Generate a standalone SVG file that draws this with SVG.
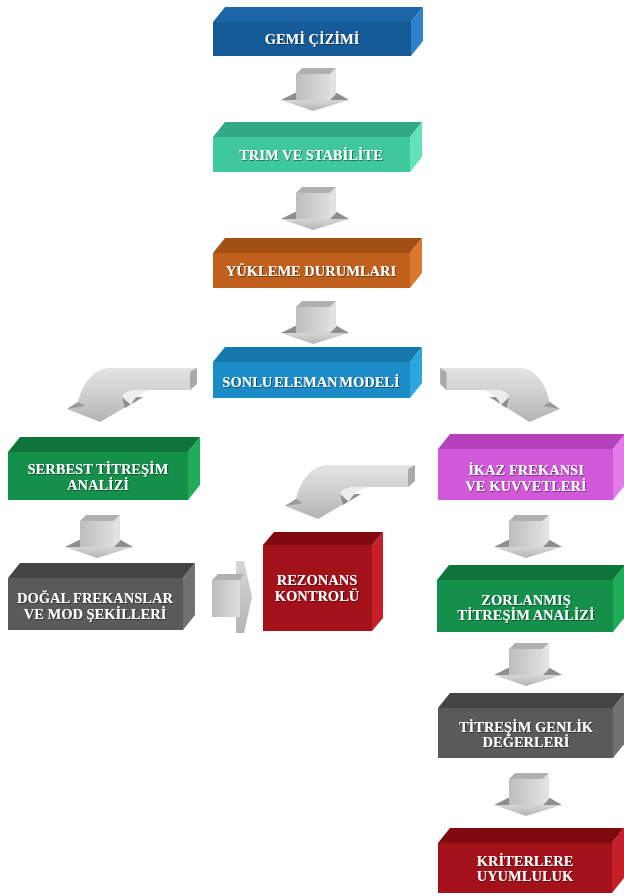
<svg xmlns="http://www.w3.org/2000/svg" xmlns:xlink="http://www.w3.org/1999/xlink" width="624" height="896" viewBox="0 0 624 896">
<style>
.t{font-family:"Liberation Serif","Times New Roman",serif;font-weight:bold;font-size:14.5px;fill:#ffffff;text-anchor:middle;filter:url(#sh)}
.blue .f{fill:#155b98}.blue .tp{fill:#1c66a8}.blue .s{fill:#2c82cc}
.teal .f{fill:#3fc89d}.teal .tp{fill:#33aa85}.teal .s{fill:#62e2ba}
.orng .f{fill:#c0601c}.orng .tp{fill:#a34e13}.orng .s{fill:#d9772e}
.cyan .f{fill:#1b8cc7}.cyan .tp{fill:#1778ab}.cyan .s{fill:#2ba6e0}
.grn .f{fill:#14904a}.grn .tp{fill:#0f743a}.grn .s{fill:#1fab5a}
.mag .f{fill:#d258da}.mag .tp{fill:#b541bd}.mag .s{fill:#e27ae8}
.gray .f{fill:#5a5a5a}.gray .tp{fill:#444444}.gray .s{fill:#717171}
.red .f{fill:#a3111a}.red .tp{fill:#7e0a10}.red .s{fill:#c41e28}
</style>
<defs>
<filter id="sh" x="-10%" y="-30%" width="120%" height="160%">
<feDropShadow dx="0.8" dy="0.8" stdDeviation="0.7" flood-color="#000" flood-opacity="0.55"/>
</filter>
<linearGradient id="gShaft" x1="0" y1="0" x2="1" y2="0">
<stop offset="0" stop-color="#bdbdbd"/><stop offset="1" stop-color="#dedede"/>
</linearGradient>
<linearGradient id="gHead" x1="0" y1="0" x2="0" y2="1">
<stop offset="0" stop-color="#d6d6d6"/><stop offset="1" stop-color="#b4b4b4"/>
</linearGradient>
<linearGradient id="gBand" x1="0" y1="0" x2="0" y2="1">
<stop offset="0" stop-color="#e4e4e4"/><stop offset="0.6" stop-color="#c9c9c9"/><stop offset="1" stop-color="#b2b2b2"/>
</linearGradient>
<g id="darrow">
<polygon points="-32,30 -18,23 24,23 36,30" fill="#8e8e8e"/>
<polygon points="-32,30 36,30 0,41" fill="url(#gHead)"/>
<rect x="-17" y="4" width="34" height="26" fill="url(#gShaft)"/>
<polygon points="-17,4 -11,-2 23,-2 17,4" fill="#b0b0b0"/>
<polygon points="17,4 23,-2 23,24 17,30" fill="#e2e2e2"/>
</g>
<g id="carrow">
<path d="M197,368 L108,368 C92,370 82,385 78,402 L67,409 L100,422 L143,397 L122,397 C124,392 130,390 138,390 L190,390 L197,384 Z" fill="url(#gBand)"/>
<polygon points="122,397 143,397 125,408" fill="#8e8e8e"/>
<polygon points="67,409 78,402 85,406" fill="#9a9a9a"/>
<path d="M122,397 C124,392 130,390 138,390 L150,390 C140,393 134,398 131,405 Z" fill="#ededed"/>
<polygon points="190,372 197,368 197,384 190,390" fill="#a9a9a9"/>
</g>
</defs>
<rect width="624" height="896" fill="#ffffff"/>
<g id="connectors">
<use xlink:href="#darrow" transform="translate(313,70)"/>
<use xlink:href="#darrow" transform="translate(313,189)"/>
<use xlink:href="#darrow" transform="translate(313,303)"/>
<use xlink:href="#darrow" transform="translate(97,517)"/>
<use xlink:href="#darrow" transform="translate(526,517)"/>
<use xlink:href="#darrow" transform="translate(526,645)"/>
<use xlink:href="#darrow" transform="translate(526,775)"/>
<use xlink:href="#carrow"/>
<use xlink:href="#carrow" transform="translate(218,97)"/>
<use xlink:href="#carrow" transform="translate(621.4,0) scale(-0.92,1)"/>
<g id="rarrow">
<polygon points="236,561 244,561 252,597 244,633 236,633" fill="url(#gHead)"/>
<rect x="212" y="580" width="28" height="37" fill="url(#gShaft)"/>
<polygon points="212,580 218,574 244,574 240,580" fill="#b0b0b0"/>
</g>
</g>
<g id="n1" class="blue">
<rect class="f" x="213" y="22" width="198" height="34"/>
<polygon class="tp" points="213,22 225,7 423,7 411,22"/>
<polygon class="s" points="411,22 423,7 423,41 411,56"/>
<text class="t" x="312" y="44">GEMİ ÇİZİMİ</text>
</g>
<g id="n2" class="teal">
<rect class="f" x="213" y="137" width="197" height="35"/>
<polygon class="tp" points="213,137 225,122 422,122 410,137"/>
<polygon class="s" points="410,137 422,122 422,157 410,172"/>
<text class="t" x="311" y="160">TRIM VE STABİLİTE</text>
</g>
<g id="n3" class="orng">
<rect class="f" x="213" y="253" width="197" height="35"/>
<polygon class="tp" points="213,253 225,238 422,238 410,253"/>
<polygon class="s" points="410,253 422,238 422,273 410,288"/>
<text class="t" x="311" y="276">YÜKLEME DURUMLARI</text>
</g>
<g id="n4" class="cyan">
<rect class="f" x="213" y="362" width="197" height="36"/>
<polygon class="tp" points="213,362 225,347 422,347 410,362"/>
<polygon class="s" points="410,362 422,347 422,383 410,398"/>
<text class="t" x="311" y="387" word-spacing="-2">SONLU ELEMAN MODELİ</text>
</g>
<g id="n5" class="grn">
<rect class="f" x="8" y="452" width="180" height="48"/>
<polygon class="tp" points="8,452 20,437 200,437 188,452"/>
<polygon class="s" points="188,452 200,437 200,485 188,500"/>
<text class="t" x="98" y="474">SERBEST TİTREŞİM</text>
<text class="t" x="98" y="490">ANALİZİ</text>
</g>
<g id="n6" class="gray">
<rect class="f" x="8" y="578" width="175" height="52"/>
<polygon class="tp" points="8,578 20,563 195,563 183,578"/>
<polygon class="s" points="183,578 195,563 195,615 183,630"/>
<text class="t" x="95" y="603">DOĞAL FREKANSLAR</text>
<text class="t" x="95" y="619">VE MOD ŞEKİLLERİ</text>
</g>
<g id="n7" class="red">
<rect class="f" x="263" y="545" width="109" height="86"/>
<polygon class="tp" points="263,545 274,532 383,532 372,545"/>
<polygon class="s" points="372,545 383,532 383,618 372,631"/>
<text class="t" x="317" y="585">REZONANS</text>
<text class="t" x="317" y="601">KONTROLÜ</text>
</g>
<g id="n8" class="mag">
<rect class="f" x="438" y="449" width="175" height="51"/>
<polygon class="tp" points="438,449 450,434 625,434 613,449"/>
<polygon class="s" points="613,449 625,434 625,485 613,500"/>
<text class="t" x="526" y="475">İKAZ FREKANSI</text>
<text class="t" x="526" y="491">VE KUVVETLERİ</text>
</g>
<g id="n9" class="grn">
<rect class="f" x="437" y="580" width="176" height="52"/>
<polygon class="tp" points="437,580 449,565 625,565 613,580"/>
<polygon class="s" points="613,580 625,565 625,617 613,632"/>
<text class="t" x="526" y="605">ZORLANMIŞ</text>
<text class="t" x="526" y="620">TİTREŞİM ANALİZİ</text>
</g>
<g id="n10" class="gray">
<rect class="f" x="438" y="708" width="175" height="50"/>
<polygon class="tp" points="438,708 450,693 625,693 613,708"/>
<polygon class="s" points="613,708 625,693 625,743 613,758"/>
<text class="t" x="526" y="732">TİTREŞİM GENLİK</text>
<text class="t" x="526" y="747">DEĞERLERİ</text>
</g>
<g id="n11" class="red">
<rect class="f" x="438" y="843" width="174" height="50"/>
<polygon class="tp" points="438,843 450,828 624,828 612,843"/>
<polygon class="s" points="612,843 624,828 624,878 612,893"/>
<text class="t" x="525" y="866">KRİTERLERE</text>
<text class="t" x="525" y="881">UYUMLULUK</text>
</g>
</svg>
